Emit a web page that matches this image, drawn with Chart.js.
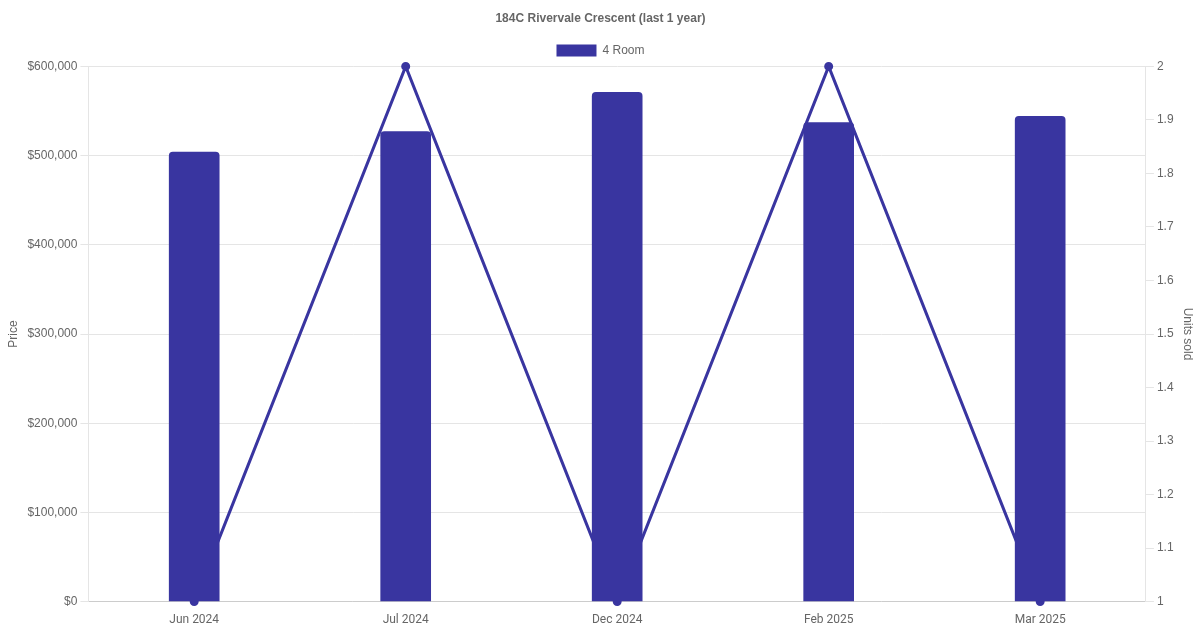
<!DOCTYPE html>
<html>
<head>
<meta charset="utf-8">
<script src="https://cdn.jsdelivr.net/npm/chart.js@4"></script>
<style>
  html, body { margin: 0; padding: 0; background: #fff; }
  #wrap { width: 1200px; height: 630px; }
</style>
</head>
<body>
<div id="wrap"><canvas id="priceChart"></canvas></div>
<script>
const months = ['Jun 2024', 'Jul 2024', 'Dec 2024', 'Feb 2025', 'Mar 2025'];
const prices = [504000, 527000, 571000, 537000, 544000];
const unitsSold = [1, 2, 1, 2, 1];

const barColor = '#3935a0';
const roboto = "Roboto, 'Liberation Sans', Arial, sans-serif";

Chart.defaults.font.family = "'Liberation Sans', Arial, sans-serif";
Chart.defaults.font.size = 12;
Chart.defaults.color = '#666';

const ctx = document.getElementById('priceChart').getContext('2d');
new Chart(ctx, {
    data: {
        labels: months,
        datasets: [{
            type: 'bar',
            label: '4 Room',
            data: prices,
            backgroundColor: barColor,
            borderColor: barColor,
            borderWidth: 0,
            borderRadius: 4,
            borderSkipped: 'bottom',
            barThickness: 50,
            yAxisID: 'y',
            order: 1
        }, {
            type: 'line',
            label: 'Units sold',
            data: unitsSold,
            borderColor: barColor,
            backgroundColor: barColor,
            borderWidth: 3,
            pointRadius: 3,
            tension: 0,
            fill: false,
            clip: false,
            yAxisID: 'y1',
            order: 2
        }]
    },
    options: {
        responsive: true,
        maintainAspectRatio: false,
        animation: false,
        layout: { padding: { left: 2, right: 1, top: 0, bottom: 0 } },
        plugins: {
            title: {
                display: true,
                text: '184C Rivervale Crescent (last 1 year)',
                color: '#666',
                font: { weight: 'bold', size: 12 },
                padding: { top: 11, bottom: 9 }
            },
            legend: {
                labels: {
                    boxWidth: 40,
                    boxHeight: 12,
                    color: '#666',
                    // only the bar series in the legend
                    filter: item => item.datasetIndex === 0
                }
            },
            tooltip: { enabled: false }
        },
        scales: {
            x: {
                grid: { display: false },
                border: { color: '#ccc' },
                ticks: { color: '#666', font: { family: roboto } }
            },
            y: {
                position: 'left',
                min: 0,
                max: 600000,
                ticks: {
                    stepSize: 100000,
                    color: '#666',
                    callback: v => '$' + v.toLocaleString('en-US')
                },
                grid: { color: '#e5e5e5' },
                border: { color: '#e5e5e5' },
                title: { display: true, text: 'Price', color: '#666' }
            },
            y1: {
                position: 'right',
                min: 1,
                max: 2,
                ticks: {
                    stepSize: 0.1,
                    color: '#666',
                    callback: v => String(Math.round(v * 10) / 10)
                },
                grid: { drawOnChartArea: false, color: '#e5e5e5' },
                border: { color: '#e5e5e5' },
                title: { display: true, text: 'Units sold', color: '#666' }
            }
        }
    }
});
</script>
</body>
</html>
